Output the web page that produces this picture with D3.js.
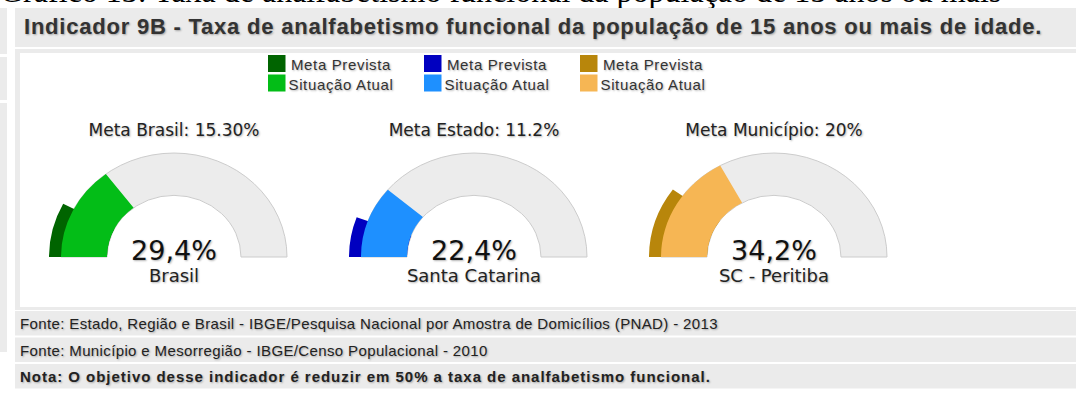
<!DOCTYPE html>
<html>
<head>
<meta charset="utf-8">
<script src="https://cdn.jsdelivr.net/npm/d3@7"></script>
<style>
  body { margin: 0; background: #fff; }
  svg text { text-shadow: 1px 1px 2px rgba(0, 0, 0, 0.3); }
</style>
</head>
<body>
<svg id="chart" width="1076" height="401"></svg>
<script>
// data
var places = ["Brasil", "Santa Catarina", "SC - Peritiba"];
var metaLabels = ["Meta Brasil: 15.30%", "Meta Estado: 11.2%", "Meta Município: 20%"];
var metaValues = [15.3, 11.2, 20];
var actualValues = [29.4, 22.4, 34.2];
var actualLabels = ["29,4%", "22,4%", "34,2%"];
var metaColors = ["#006400", "#0000c0", "#b8860b"];
var actualColors = ["#03bd17", "#1e90ff", "#f6b654"];
var legendLabels = ["Meta Prevista", "Situação Atual"];
var caption = "Gráfico 13: Taxa de analfabetismo funcional da população de 15 anos ou mais";
var title = "Indicador 9B - Taxa de analfabetismo funcional da população de 15 anos ou mais de idade.";
var footNotes = [
  "Fonte: Estado, Região e Brasil - IBGE/Pesquisa Nacional por Amostra de Domicílios (PNAD) - 2013",
  "Fonte: Município e Mesorregião - IBGE/Censo Populacional - 2010",
  "Nota: O objetivo desse indicador é reduzir em 50% a taxa de analfabetismo funcional."
];

var GREY = "#ebebeb";
var SANS = "'Liberation Sans', Arial, sans-serif";
var GAUGE_FONT = "'DejaVu Sans', Verdana, sans-serif";

var svg = d3.select("#chart");

// page furniture: caption cut by the top edge, left strip, title bar, panel, footer rows
svg.append("text")
    .attr("x", 0)
    .attr("y", 1.5)
    .style("font-family", "'Liberation Serif', 'Times New Roman', serif")
    .style("font-size", "32px")
    .style("fill", "#000")
    .style("text-shadow", "none")
    .text(caption);

[[8, 54], [57, 100], [103, 352]].forEach(function (s) {
  svg.append("rect").attr("x", 0).attr("y", s[0]).attr("width", 7).attr("height", s[1] - s[0]).style("fill", GREY);
});

svg.append("rect").attr("x", 15).attr("y", 8).attr("width", 1061).attr("height", 39).style("fill", GREY);
svg.append("text")
    .attr("x", 24)
    .attr("y", 34)
    .style("font-family", SANS)
    .style("font-weight", "bold")
    .style("font-size", "22px")
    .style("letter-spacing", "0.78px")
    .style("fill", "#333")
    .text(title);

svg.append("rect").attr("x", 15).attr("y", 49).attr("width", 1061).attr("height", 261).style("fill", GREY);
svg.append("rect").attr("x", 20).attr("y", 53).attr("width", 1056).attr("height", 254).style("fill", "#fff");

var rows = svg.selectAll(".foot").data(footNotes).enter()
  .append("g")
    .attr("class", "foot")
    .attr("transform", function (d, i) { return "translate(15," + (311 + i * 26.5) + ")"; });

rows.append("rect").attr("width", 1061).attr("height", 24.5).style("fill", GREY);
rows.append("text")
    .attr("x", 5)
    .attr("y", 18)
    .style("font-family", SANS)
    .style("font-size", "15px")
    .style("font-weight", function (d, i) { return i == 2 ? "bold" : "normal"; })
    .style("letter-spacing", function (d, i) { return i == 2 ? "0.97px" : "0.37px"; })
    .style("fill", "#222")
    .text(function (d) { return d; });

// legend
var lx = d3.scalePoint().domain(places).range([268, 580]);

var legend = svg.selectAll(".legend").data(places).enter()
  .append("g")
    .attr("class", "legend")
    .attr("transform", function (d) { return "translate(" + lx(d) + ",55)"; });

legend.each(function (d, i) {
  var g = d3.select(this);
  [metaColors[i], actualColors[i]].forEach(function (c, j) {
    g.append("rect")
        .attr("y", j * 19.5)
        .attr("width", 17.5)
        .attr("height", 17)
        .style("fill", c);
    g.append("text")
        .attr("x", 73)
        .attr("y", j * 19.5 + 15)
        .attr("text-anchor", "middle")
        .style("font-family", SANS)
        .style("font-size", "15px")
        .style("letter-spacing", "0.65px")
        .style("fill", "#333")
        .text(legendLabels[j]);
  });
});

// gauges
var gx = d3.scalePoint().domain(places).range([174, 774]);
var angle = d3.scaleLinear().domain([0, 100]).range([-Math.PI / 2, Math.PI / 2]);

var R_OUT = 113, R_IN = 67, R_META = 125, BASE = 257;

var band = d3.arc().innerRadius(R_IN).outerRadius(R_OUT);
var metaArc = d3.arc().innerRadius(R_IN).outerRadius(R_META);

var gauges = svg.selectAll(".gauge").data(places).enter()
  .append("g")
    .attr("class", "gauge")
    .attr("transform", function (d) { return "translate(" + gx(d) + "," + BASE + ")"; });

var arcs = gauges.append("g").attr("transform", "scale(1,0.92)");

arcs.append("path")
    .attr("d", band({startAngle: angle(0), endAngle: angle(100)}))
    .style("fill", "#ececec")
    .style("stroke", "#cccccc")
    .style("stroke-width", 1)
    .attr("vector-effect", "non-scaling-stroke");

arcs.append("path")
    .attr("d", function (d, i) { return metaArc({startAngle: angle(0), endAngle: angle(metaValues[i])}); })
    .style("fill", function (d, i) { return metaColors[i]; });

arcs.append("path")
    .attr("d", function (d, i) { return band({startAngle: angle(0), endAngle: angle(actualValues[i])}); })
    .style("fill", function (d, i) { return actualColors[i]; });

gauges.append("text")
    .attr("y", -121)
    .attr("text-anchor", "middle")
    .style("font-family", GAUGE_FONT)
    .style("font-size", "17px")
    .style("fill", "#222")
    .text(function (d, i) { return metaLabels[i]; });

gauges.append("text")
    .attr("y", 3)
    .attr("text-anchor", "middle")
    .style("font-family", GAUGE_FONT)
    .style("font-size", "27px")
    .style("fill", "#111")
    .text(function (d, i) { return actualLabels[i]; });

gauges.append("text")
    .attr("y", 25)
    .attr("text-anchor", "middle")
    .style("font-family", GAUGE_FONT)
    .style("font-size", "18px")
    .style("fill", "#222")
    .text(function (d) { return d; });
</script>
</body>
</html>
